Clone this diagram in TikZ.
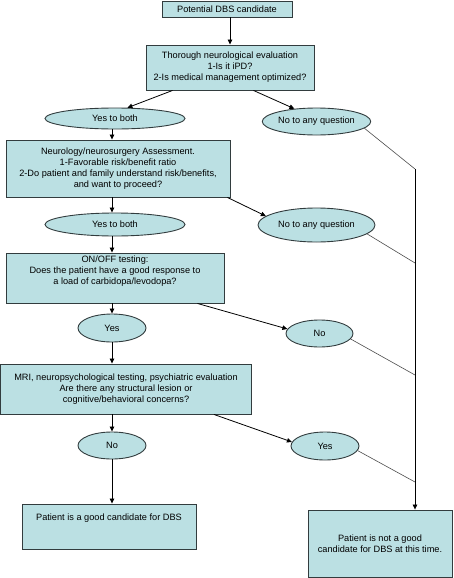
\documentclass[tikz,border=0pt]{standalone}
\usepackage{fontspec}
\setmainfont{Liberation Sans}
\usetikzlibrary{shapes.geometric,arrows.meta}
\definecolor{boxfill}{RGB}{187,224,227}
\definecolor{boxline}{RGB}{50,60,62}
\begin{document}
\begin{tikzpicture}[x=1pt,y=-1pt,
  font=\fontsize{9.2}{11}\selectfont,
  box/.style={draw=boxline,line width=0.9pt,fill=boxfill,inner sep=0pt,align=center},
  oval/.style={ellipse,draw=boxline,line width=0.9pt,fill=boxfill,inner sep=0pt,align=center},
  arr/.style={-{Triangle[length=5pt,width=4.5pt]},line width=0.8pt,black},
  thin/.style={line width=0.6pt,draw=black!70}]
\useasboundingbox (0,0) rectangle (454,578);
\node[box,minimum width=130pt,minimum height=16pt] (b1) at (227,9) {Potential DBS candidate};
\node[box,minimum width=168pt,minimum height=45pt] (b2) at (230,67.5) {Thorough neurological evaluation\\1-Is it iPD?\\2-Is medical management optimized?};
\node[oval,minimum width=140pt,minimum height=21pt] (y1) at (115,118.5) {Yes to both};
\node[oval,minimum width=107pt,minimum height=27pt] (n1) at (316.5,121.5) {No to any question};
\node[box,minimum width=224pt,minimum height=57pt] (b3) at (118,168.5) {Neurology/neurosurgery Assessment.\\1-Favorable risk/benefit ratio\\2-Do patient and family understand risk/benefits,\\and want to proceed?};
\node[oval,minimum width=140pt,minimum height=23pt] (y2) at (115,224.5) {Yes to both};
\node[oval,minimum width=117pt,minimum height=34pt] (n2) at (316.5,225) {No to any question};
\node[box,minimum width=218pt,minimum height=50pt] (b4) at (115,278) {ON/OFF testing:\\Does the patient have a good response to\\a load of carbidopa/levodopa?\\[4pt]};
\node[oval,minimum width=68pt,minimum height=28pt] (y3) at (112,328) {Yes};
\node[oval,minimum width=67pt,minimum height=27pt] (n3) at (319.5,333.5) {No};
\node[box,minimum width=251pt,minimum height=50pt] (b5) at (126,389) {MRI, neuropsychological testing, psychiatric evaluation\\Are there any structural lesion or\\cognitive/behavioral concerns?};
\node[oval,minimum width=68pt,minimum height=27pt] (n4) at (112,445.5) {No};
\node[oval,minimum width=68pt,minimum height=28pt] (y4) at (325,446) {Yes};
\node[box,minimum width=174pt,minimum height=45pt,text height=16pt,text depth=29pt] (b6) at (109,526.5) {Patient is a good candidate for DBS};
\node[box,minimum width=144pt,minimum height=67pt] (b7) at (380,543.5) {Patient is not a good\\candidate for DBS at this time.};
\coordinate (r1) at (415,169);
\coordinate (r2) at (415,263);
\coordinate (r3) at (415,375);
\coordinate (r4) at (415,482);
\coordinate (sp) at (112,0);
% main flow
\draw[arr] (b1.south -| b2.north) -- (b2.north);
\draw[arr] ([xshift=27pt]b2.south west) -- (y1.41);
\draw[arr] ([xshift=-61pt]b2.south east) -- (n1.150);
\draw[arr] (y1.south -| sp) -- (b3.north -| sp);
\draw[arr] ([xshift=-3pt]b3.south east) -- (n2.170);
\draw[arr] (b3.south -| sp) -- (y2.north -| sp);
\draw[arr] (y2.south -| sp) -- (b4.north -| sp);
\draw[arr] (b4.south -| sp) -- (y3.north);
\draw[arr] ([xshift=-27pt]b4.south east) -- (n3.172);
\draw[arr] (y3.south) -- (b5.north -| y3.south);
\draw[arr] ([xshift=-38pt]b5.south east) -- (y4.173);
\draw[arr] (b5.south -| n4.north) -- (n4.north);
\draw[arr] (n4.south) -- (b6.north -| n4.south);
% right side
\draw[thin] (n1.-8) -- (r1);
\draw[thin] (n2.-10) -- (r2);
\draw[thin] (n3.-10) -- (r3);
\draw[thin] (y4.-8) -- (r4);
\draw[arr,line width=0.7pt] (r1) -- (b7.north -| r1);
\end{tikzpicture}
\end{document}
